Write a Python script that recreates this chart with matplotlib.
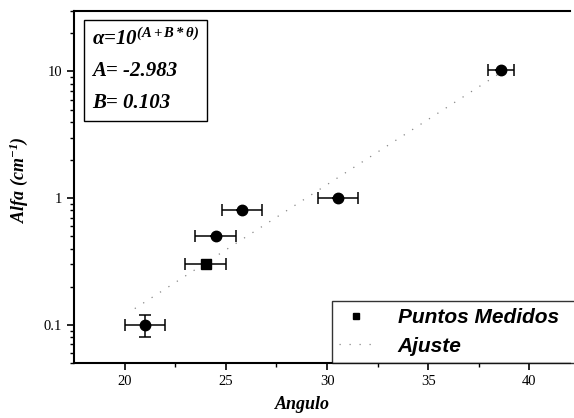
import numpy as np
import matplotlib
matplotlib.use("Agg")
import matplotlib.pyplot as plt
from matplotlib.ticker import FixedLocator, NullFormatter, LogLocator

plt.rcParams["mathtext.fontset"] = "custom"
plt.rcParams["mathtext.rm"] = "Liberation Serif:bold:italic"
plt.rcParams["mathtext.it"] = "Liberation Serif:bold:italic"
plt.rcParams["mathtext.bf"] = "Liberation Serif:bold:italic"

# measured points (angle, alpha)
ang_circ = [21.0, 24.5, 25.8, 30.55, 38.6]
alfa_circ = [0.10, 0.50, 0.80, 1.00, 10.3]
xerr_circ = [1.0, 1.0, 1.0, 1.0, 0.65]
yerr_circ = [0.02, 0.0, 0.0, 0.0, 0.0]

ang_sq = [24.0]
alfa_sq = [0.30]
xerr_sq = [1.0]

# fit parameters
A = -2.983
B = 0.103
fit_range = [20.5, 39.0]

serif = ["Liberation Serif", "DejaVu Serif"]
sans = ["Liberation Sans", "DejaVu Sans"]

fig = plt.figure(figsize=(5.74, 4.18), dpi=100)
ax = fig.add_axes([0.129, 0.1316, 0.864, 0.842])

th = np.linspace(fit_range[0], fit_range[1], 200)
ax.plot(th, 10 ** (A + B * th), linestyle=(0, (1, 7)), color="#888888",
        linewidth=0.9, label="Ajuste")

ax.errorbar(ang_circ, alfa_circ, xerr=xerr_circ, yerr=yerr_circ, fmt="o",
            color="black", ms=7.5, capsize=4, elinewidth=1.1, capthick=1.1)
ax.errorbar(ang_sq, alfa_sq, xerr=xerr_sq, fmt="s", color="black", ms=6.5,
            capsize=4, elinewidth=1.1, capthick=1.1)
ax.plot([], [], "s", color="black", ms=5, label="Puntos Medidos")

ax.set_yscale("log")
ax.set_xlim(17.5, 42.0)
ax.set_ylim(0.05, 30)

ax.set_xticks([20, 25, 30, 35, 40])
ax.xaxis.set_minor_locator(FixedLocator([22.5, 27.5, 32.5, 37.5]))
ax.set_yticks([0.1, 1, 10])
ax.set_yticklabels(["0.1", "1", "10"])
ax.yaxis.set_minor_locator(LogLocator(base=10, subs=np.arange(2, 10)))
ax.yaxis.set_minor_formatter(NullFormatter())

for lab in ax.get_xticklabels() + ax.get_yticklabels():
    lab.set_family(serif)
    lab.set_fontsize(10.5)

ax.tick_params(which="major", direction="out", length=5, width=1.2)
ax.tick_params(which="minor", direction="out", length=3, width=1)

ax.spines["right"].set_visible(False)
for s in ["left", "bottom", "top"]:
    ax.spines[s].set_linewidth(1.5)

ax.set_xlabel("Angulo", family=serif, fontsize=13, fontweight="bold",
              style="italic")
ax.xaxis.set_label_coords(0.46, -0.095)
ax.set_ylabel("Alfa (cm$^{-1}$)", family=serif, fontsize=13,
              fontweight="bold", style="italic")
ax.yaxis.set_label_coords(-0.088, 0.52)

txt = "$\\alpha$=10$^{(A+B*\\theta)}$\nA= -2.983\nB= 0.103"
ax.text(0.036, 0.95, txt, transform=ax.transAxes, va="top", ha="left",
        family=serif, fontsize=15, fontweight="bold", style="italic",
        linespacing=1.75,
        bbox=dict(boxstyle="square,pad=0.4", fc="white", ec="black", lw=1))

handles, labels = ax.get_legend_handles_labels()
leg = ax.legend(handles[::-1], labels[::-1], loc="lower left",
                bbox_to_anchor=(0.52, 0.0, 0.53, 0.2), mode="expand",
                prop=dict(family=sans, size=15, weight="bold", style="italic"),
                frameon=True, fancybox=False, borderaxespad=0,
                handlelength=1.6, handletextpad=1.2, borderpad=0.35,
                labelspacing=0.45)
leg.get_frame().set_edgecolor("black")
leg.get_frame().set_linewidth(1)

fig.savefig("out.png", dpi=100)
